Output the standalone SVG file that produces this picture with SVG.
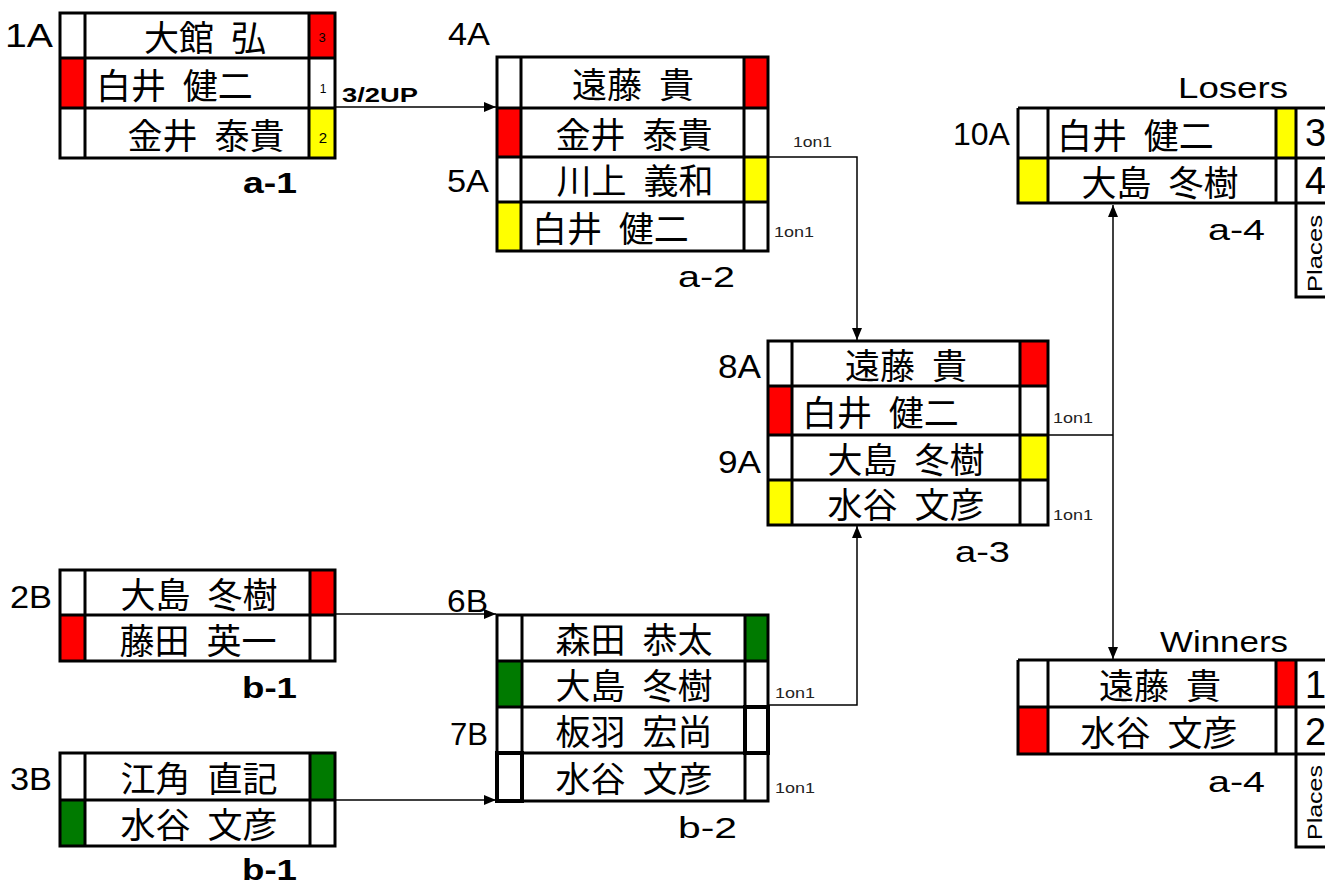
<svg xmlns="http://www.w3.org/2000/svg" width="1325" height="885" viewBox="0 0 1325 885">
<style>
.bg{fill:#fff}
.o{fill:none;stroke:#000;stroke-width:3}
.ln{stroke:#000;stroke-width:3}
.r{fill:#ff0000}
.y{fill:#ffff00}
.g{fill:#007a00}
.nm{font-family:"Noto Sans CJK JP","Noto Sans CJK SC",sans-serif;font-size:35px;word-spacing:9px;fill:#000}
.lb{font-family:"Liberation Sans",Arial,sans-serif;fill:#000}
.bd{font-weight:bold}
.sm{font-family:"Liberation Sans",Arial,sans-serif;font-size:14px;fill:#222}
.cn{fill:none;stroke:#000;stroke-width:1.5}
.th{fill:none;stroke:#000;stroke-width:4}
</style>
<defs>
<marker id="ah" viewBox="0 0 12 10" refX="12" refY="5" markerWidth="12" markerHeight="10" markerUnits="userSpaceOnUse" orient="auto-start-reverse">
<path d="M0,0 L12,5 L0,10 Z" fill="#000"/>
</marker>
</defs>
<rect class="bg" x="0" y="0" width="1325" height="885"/>

<g id="connectors">
<path class="cn" d="M335,107 H496" marker-end="url(#ah)"/>
<path class="cn" d="M768,157 H857 V340" marker-end="url(#ah)"/>
<path class="cn" d="M768,705 H857 V526" marker-end="url(#ah)"/>
<path class="cn" d="M335,614 H496" marker-end="url(#ah)"/>
<path class="cn" d="M335,800 H496" marker-end="url(#ah)"/>
<path class="cn" d="M1048,435 H1113"/>
<path class="cn" d="M1113,205 V659" marker-start="url(#ah)" marker-end="url(#ah)"/>
</g>

<g id="node-a1">
<rect class="bg" x="60" y="13" width="275" height="145"/>
<rect class="r" x="309" y="13" width="26" height="45"/>
<rect class="r" x="60" y="58" width="25" height="50"/>
<rect class="y" x="309" y="108" width="26" height="50"/>
<rect class="o" x="60" y="13" width="275" height="145"/>
<path class="ln" d="M85,13 V158 M309,13 V158 M60,58 H335 M60,108 H335"/>
<text class="nm" x="205" y="51" text-anchor="middle">大館 弘</text>
<text class="nm" x="96" y="99">白井 健二</text>
<text class="nm" x="206" y="149" text-anchor="middle">金井 泰貴</text>
<text class="lb" x="322" y="42" font-size="13" text-anchor="middle" fill="#d40000">3</text>
<text class="lb" x="323" y="93" font-size="12" text-anchor="middle">1</text>
<text class="lb" x="323" y="143" font-size="15" text-anchor="middle">2</text>
<text class="lb" x="5" y="47" font-size="33" textLength="48" lengthAdjust="spacingAndGlyphs">1A</text>
<text class="lb bd" x="342" y="102" font-size="21" textLength="76" lengthAdjust="spacingAndGlyphs">3/2UP</text>
<text class="lb bd" x="243" y="193" font-size="30" textLength="54" lengthAdjust="spacingAndGlyphs">a-1</text>
</g>

<g id="node-a2">
<rect class="bg" x="497" y="57" width="271" height="194"/>
<rect class="r" x="744" y="57" width="24" height="51"/>
<rect class="r" x="497" y="108" width="24" height="49"/>
<rect class="y" x="744" y="157" width="24" height="45"/>
<rect class="y" x="497" y="202" width="24" height="49"/>
<rect class="o" x="497" y="57" width="271" height="194"/>
<path class="ln" d="M521,57 V251 M744,57 V251 M497,108 H768 M497,157 H768 M497,202 H768"/>
<text class="nm" x="633" y="98" text-anchor="middle">遠藤 貴</text>
<text class="nm" x="634" y="148" text-anchor="middle">金井 泰貴</text>
<text class="nm" x="635" y="194" text-anchor="middle">川上 義和</text>
<text class="nm" x="532" y="242">白井 健二</text>
<text class="lb" x="448" y="45" font-size="31" textLength="42" lengthAdjust="spacingAndGlyphs">4A</text>
<text class="lb" x="447" y="192" font-size="31" textLength="42" lengthAdjust="spacingAndGlyphs">5A</text>
<text class="sm" x="793" y="147" textLength="39" lengthAdjust="spacingAndGlyphs">1on1</text>
<text class="sm" x="774" y="237" textLength="40" lengthAdjust="spacingAndGlyphs">1on1</text>
<text class="lb" x="678" y="287" font-size="29" textLength="57" lengthAdjust="spacingAndGlyphs">a-2</text>
</g>

<g id="node-a3">
<rect class="bg" x="768" y="341" width="280" height="184"/>
<rect class="r" x="1020" y="341" width="28" height="45"/>
<rect class="r" x="768" y="386" width="24" height="49"/>
<rect class="y" x="1020" y="435" width="28" height="45"/>
<rect class="y" x="768" y="480" width="24" height="45"/>
<rect class="o" x="768" y="341" width="280" height="184"/>
<path class="ln" d="M792,341 V525 M1020,341 V525 M768,386 H1048 M768,435 H1048 M768,480 H1048"/>
<text class="nm" x="906" y="379" text-anchor="middle">遠藤 貴</text>
<text class="nm" x="802" y="426">白井 健二</text>
<text class="nm" x="906" y="473" text-anchor="middle">大島 冬樹</text>
<text class="nm" x="906" y="518" text-anchor="middle">水谷 文彦</text>
<text class="lb" x="718" y="378" font-size="33" textLength="43" lengthAdjust="spacingAndGlyphs">8A</text>
<text class="lb" x="718" y="473" font-size="31" textLength="43" lengthAdjust="spacingAndGlyphs">9A</text>
<text class="sm" x="1053" y="423" textLength="40" lengthAdjust="spacingAndGlyphs">1on1</text>
<text class="sm" x="1053" y="520" textLength="40" lengthAdjust="spacingAndGlyphs">1on1</text>
<text class="lb" x="955" y="562" font-size="30" textLength="55" lengthAdjust="spacingAndGlyphs">a-3</text>
</g>

<g id="node-a4-losers">
<rect class="bg" x="1018" y="108" width="310" height="95"/>
<rect class="bg" x="1296" y="203" width="32" height="94"/>
<rect class="y" x="1276" y="108" width="20" height="50"/>
<rect class="y" x="1018" y="158" width="30" height="45"/>
<path class="ln" d="M1018,108 H1328 M1018,108 V203 M1016.5,203 H1298 M1048,108 V203 M1276,108 V203 M1296,108 V297 M1294.5,297 H1328 M1018,158 H1328 M1296,203 H1328"/>
<text class="nm" x="1057" y="149">白井 健二</text>
<text class="nm" x="1160" y="196" text-anchor="middle">大島 冬樹</text>
<text class="lb" x="1305" y="146" font-size="38">3</text>
<text class="lb" x="1305" y="194" font-size="38">4</text>
<text class="lb" font-size="20" transform="translate(1322,292) rotate(-90)" textLength="77" lengthAdjust="spacingAndGlyphs">Places</text>
<text class="lb" x="953" y="145" font-size="31" textLength="57" lengthAdjust="spacingAndGlyphs">10A</text>
<text class="lb" x="1178" y="98" font-size="29" textLength="110" lengthAdjust="spacingAndGlyphs">Losers</text>
<text class="lb" x="1208" y="240" font-size="29" textLength="57" lengthAdjust="spacingAndGlyphs">a-4</text>
</g>

<g id="node-a4-winners">
<rect class="bg" x="1018" y="660" width="310" height="94"/>
<rect class="bg" x="1296" y="754" width="32" height="93"/>
<rect class="r" x="1276" y="660" width="20" height="47"/>
<rect class="r" x="1018" y="707" width="30" height="47"/>
<path class="ln" d="M1018,660 H1328 M1018,660 V754 M1016.5,754 H1298 M1048,660 V754 M1276,660 V754 M1296,660 V847 M1294.5,847 H1328 M1018,707 H1328 M1296,754 H1328"/>
<text class="nm" x="1160" y="699" text-anchor="middle">遠藤 貴</text>
<text class="nm" x="1159" y="746" text-anchor="middle">水谷 文彦</text>
<text class="lb" x="1305" y="698" font-size="38">1</text>
<text class="lb" x="1305" y="745" font-size="38">2</text>
<text class="lb" font-size="20" transform="translate(1322,840) rotate(-90)" textLength="75" lengthAdjust="spacingAndGlyphs">Places</text>
<text class="lb" x="1160" y="652" font-size="29" textLength="128" lengthAdjust="spacingAndGlyphs">Winners</text>
<text class="lb" x="1208" y="792" font-size="29" textLength="57" lengthAdjust="spacingAndGlyphs">a-4</text>
</g>

<g id="node-b1-top">
<rect class="bg" x="60" y="570" width="275" height="91"/>
<rect class="r" x="310" y="570" width="25" height="45"/>
<rect class="r" x="60" y="615" width="25" height="46"/>
<rect class="o" x="60" y="570" width="275" height="91"/>
<path class="ln" d="M85,570 V661 M310,570 V661 M60,615 H335"/>
<text class="nm" x="199" y="608" text-anchor="middle">大島 冬樹</text>
<text class="nm" x="198" y="654" text-anchor="middle">藤田 英一</text>
<text class="lb" x="10" y="608" font-size="32" textLength="42" lengthAdjust="spacingAndGlyphs">2B</text>
<text class="lb bd" x="242" y="698" font-size="30" textLength="55" lengthAdjust="spacingAndGlyphs">b-1</text>
</g>

<g id="node-b1-bottom">
<rect class="bg" x="60" y="753" width="275" height="93"/>
<rect class="g" x="310" y="753" width="25" height="47"/>
<rect class="g" x="60" y="800" width="25" height="46"/>
<rect class="o" x="60" y="753" width="275" height="93"/>
<path class="ln" d="M85,753 V846 M310,753 V846 M60,800 H335"/>
<text class="nm" x="199" y="792" text-anchor="middle">江角 直記</text>
<text class="nm" x="199" y="838" text-anchor="middle">水谷 文彦</text>
<text class="lb" x="10" y="790" font-size="32" textLength="42" lengthAdjust="spacingAndGlyphs">3B</text>
<text class="lb bd" x="242" y="880" font-size="29" textLength="55" lengthAdjust="spacingAndGlyphs">b-1</text>
</g>

<g id="node-b2">
<rect class="bg" x="497" y="615" width="271" height="186"/>
<rect class="g" x="745" y="615" width="23" height="46"/>
<rect class="g" x="497" y="661" width="25" height="46"/>
<rect class="o" x="497" y="615" width="271" height="186"/>
<path class="ln" d="M522,615 V801 M745,615 V801 M497,661 H768 M497,707 H768 M497,753 H768"/>
<rect class="th" x="745" y="707" width="23" height="46"/>
<rect class="th" x="497" y="753" width="25" height="48"/>
<text class="nm" x="634" y="653" text-anchor="middle">森田 恭太</text>
<text class="nm" x="634" y="699" text-anchor="middle">大島 冬樹</text>
<text class="nm" x="634" y="745" text-anchor="middle">板羽 宏尚</text>
<text class="nm" x="634" y="792" text-anchor="middle">水谷 文彦</text>
<text class="lb" x="447" y="612" font-size="31" textLength="41" lengthAdjust="spacingAndGlyphs">6B</text>
<text class="lb" x="450" y="745" font-size="31" textLength="38" lengthAdjust="spacingAndGlyphs">7B</text>
<text class="sm" x="775" y="698" textLength="40" lengthAdjust="spacingAndGlyphs">1on1</text>
<text class="sm" x="775" y="793" textLength="40" lengthAdjust="spacingAndGlyphs">1on1</text>
<text class="lb" x="678" y="838" font-size="29" textLength="59" lengthAdjust="spacingAndGlyphs">b-2</text>
</g>
</svg>
